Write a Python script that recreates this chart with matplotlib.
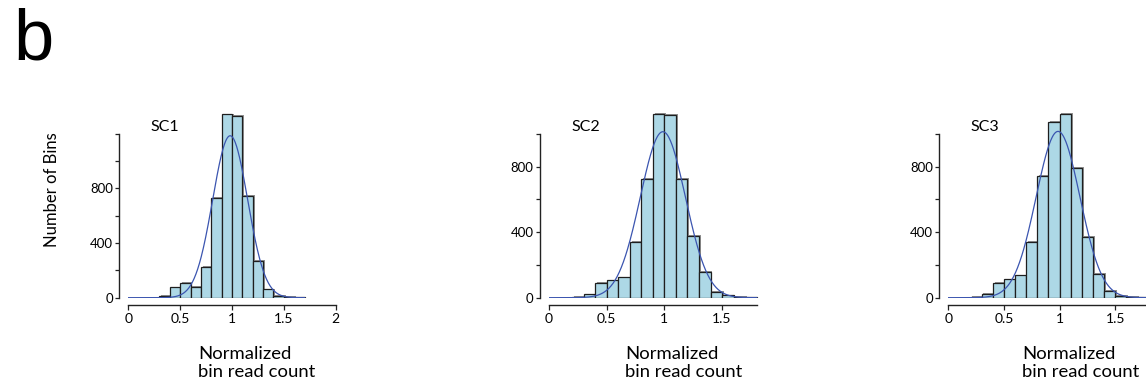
import matplotlib
matplotlib.use("Agg")
import matplotlib.pyplot as plt
import matplotlib.patheffects as pe
import numpy as np

plt.rcParams['font.family'] = ['Lato', 'DejaVu Sans']

# histogram bins (left edges, width 0.1) and counts
bin_left = [0.0, 0.1, 0.2, 0.3, 0.4, 0.5, 0.6, 0.7, 0.8, 0.9,
            1.0, 1.1, 1.2, 1.3, 1.4, 1.5, 1.6, 1.7]
bin_width = 0.1

sc1_counts = [0, 0, 0, 15, 75, 110, 80, 226, 732, 1340, 1331, 742, 268, 61, 10, 3, 2]
sc2_counts = [0, 0, 4, 20, 88, 106, 124, 342, 727, 1122, 1114, 727, 379, 155, 33, 14, 4, 2]
sc3_counts = [0, 0, 4, 24, 88, 112, 136, 342, 743, 1071, 1122, 790, 373, 145, 39, 10, 4, 2]

names = ["SC1", "SC2", "SC3"]
x_ticks = [[0, 0.5, 1, 1.5, 2], [0, 0.5, 1, 1.5], [0, 0.5, 1, 1.5]]
x_tick_labels = [["0", "0.5", "1", "1.5", "2"], ["0", "0.5", "1", "1.5"], ["0", "0.5", "1", "1.5"]]
y_top = [1200, 1000, 1000]
y_labeled = [0, 400, 800]
x_caption = "Normalized\nbin read count"

# layout in pixels, per panel
W, H = 1146, 387
panels = [
    dict(left=128.3, width=2.05 * 103.7, height=1400 * 0.1368, xmax=2.05, ymax=1400, xspine=2.0, cap=198),
    dict(left=549.0, width=1.85 * 115.4, height=1200 * 0.1638, xmax=1.85, ymax=1200, xspine=1.8, cap=625),
    dict(left=948.3, width=1.85 * 111.3, height=1200 * 0.1638, xmax=1.85, ymax=1200, xspine=1.85, cap=1022),
]
bottom_px = 387 - 297.7

fig = plt.figure(figsize=(W / 100, H / 100), dpi=100)

bar_color = "#add8e6"
edge_color = "#1e1e1e"
curve_color = "#3b55b0"

all_counts = [sc1_counts, sc2_counts, sc3_counts]
for i, counts in enumerate(all_counts):
    p = panels[i]
    ax = fig.add_axes([p["left"] / W, bottom_px / H, p["width"] / W, p["height"] / H])
    lefts = np.array(bin_left[:len(counts)])
    c = np.array(counts, dtype=float)
    bars = ax.bar(lefts, c, width=bin_width, align="edge", color=bar_color,
                  edgecolor=edge_color, linewidth=0.9, zorder=2)
    for b in bars:
        b.set_path_effects([pe.SimplePatchShadow(offset=(1.3, 0.6), shadow_rgbFace="#777777", alpha=0.8),
                            pe.Normal()])

    # normal fit from the histogram itself
    centers = lefts + bin_width / 2
    n = c.sum()
    mu = (c * centers).sum() / n
    sd = np.sqrt((c * (centers - mu) ** 2).sum() / n)
    xs = np.linspace(0, lefts[-1] + bin_width, 400)
    ys = n * bin_width / (sd * np.sqrt(2 * np.pi)) * np.exp(-0.5 * ((xs - mu) / sd) ** 2)
    ax.plot(xs, ys, color=curve_color, linewidth=0.9, zorder=3)

    ax.set_xlim(0, p["xmax"])
    ax.set_ylim(0, p["ymax"])

    for s in ["top", "right"]:
        ax.spines[s].set_visible(False)
    ax.spines["left"].set_position(("outward", 6.5))
    ax.spines["bottom"].set_position(("outward", 5.3))
    ax.spines["left"].set_bounds(0, y_top[i])
    ax.spines["bottom"].set_bounds(0, p["xspine"])
    for s in ["left", "bottom"]:
        ax.spines[s].set_linewidth(1.0)
        ax.spines[s].set_color("#222222")

    yt = list(range(0, y_top[i] + 1, 200))
    ax.set_yticks(yt)
    ax.set_yticklabels([str(v) if v in y_labeled else "" for v in yt])
    ax.set_xticks(x_ticks[i])
    ax.set_xticklabels(x_tick_labels[i])
    ax.tick_params(axis="y", length=3, width=0.9, pad=1.5, labelsize=9.5, color="#222222")
    ax.tick_params(axis="x", length=3.8, width=0.9, pad=2, labelsize=10, color="#222222")
    ax.patch.set_alpha(0)

    fig.text((p["left"] + 22) / W, 1 - 127 / H, names[i], fontsize=11.5, va="center", ha="left")
    fig.text(p["cap"] / W, 1 - 346 / H, x_caption, fontsize=13.3, ha="left", va="top", linespacing=1.12)

fig.text(52 / W, 1 - 190 / H, "Number of Bins", fontsize=12, rotation=90, ha="center", va="center")

fig.text(13 / W, 1 - 59 / H, "b", fontsize=52, family="Liberation Sans", ha="left", va="baseline")

fig.savefig("out.png", dpi=100)
